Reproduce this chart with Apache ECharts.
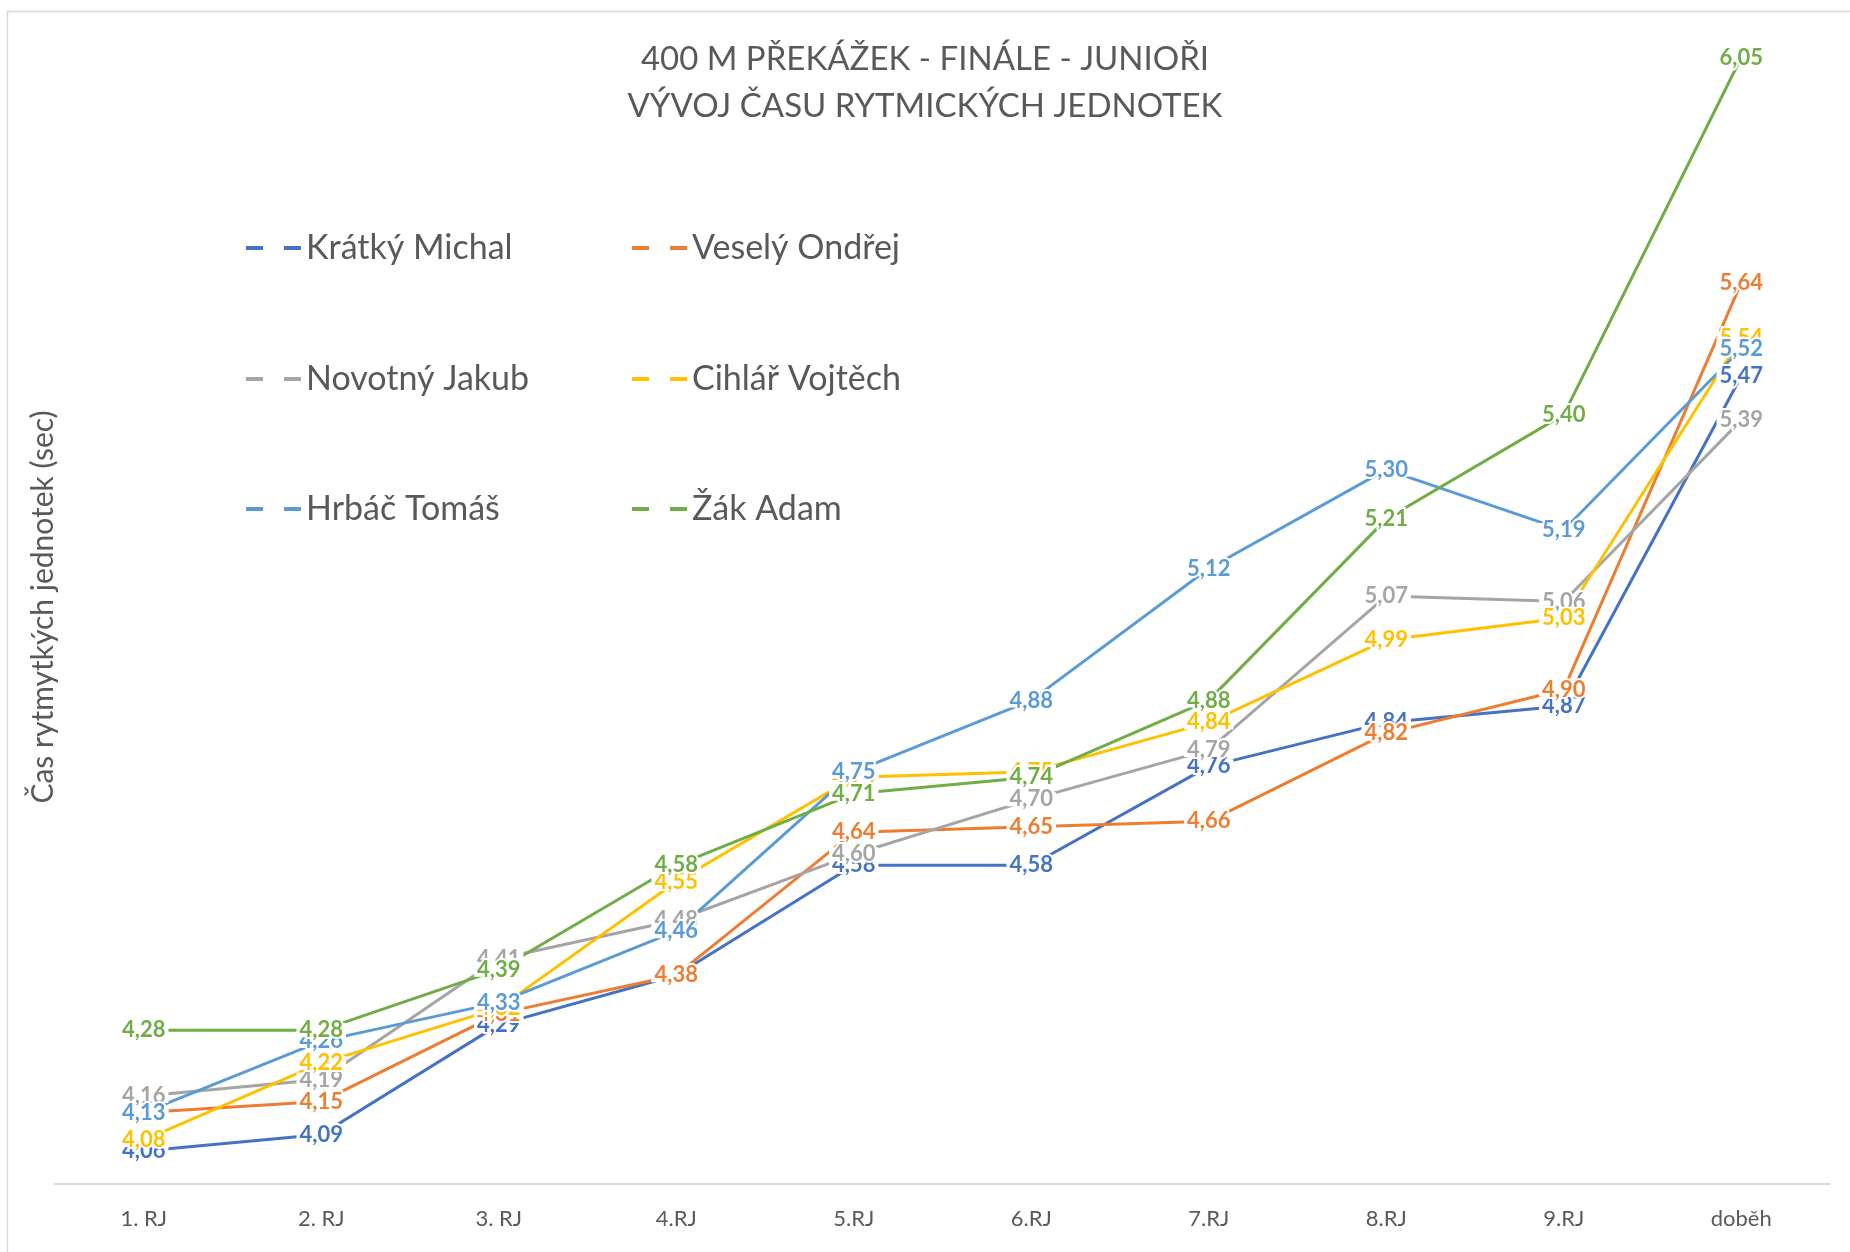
<!DOCTYPE html>
<html>
<head>
<meta charset="utf-8">
<style>
  html, body { margin: 0; padding: 0; background: #fff; }
  #chart { width: 1850px; height: 1252px; }
</style>
<script src="https://cdn.jsdelivr.net/npm/echarts@6/dist/echarts.min.js"></script>
</head>
<body>
<div id="chart"></div>
<script>
// kategorie (rytmické jednotky)
var categories = ["1. RJ", "2. RJ", "3. RJ", "4.RJ", "5.RJ", "6.RJ", "7.RJ", "8.RJ", "9.RJ", "doběh"];

// časy rytmických jednotek (sec)
var kratkyMichal  = [4.06, 4.09, 4.29, 4.38, 4.58, 4.58, 4.76, 4.84, 4.87, 5.47];
var veselyOndrej  = [4.13, 4.15, 4.31, 4.38, 4.64, 4.65, 4.66, 4.82, 4.90, 5.64];
var novotnyJakub  = [4.16, 4.19, 4.41, 4.48, 4.60, 4.70, 4.79, 5.07, 5.06, 5.39];
var cihlarVojtech = [4.08, 4.22, 4.32, 4.55, 4.74, 4.75, 4.84, 4.99, 5.03, 5.54];
var hrbacTomas    = [4.13, 4.26, 4.33, 4.46, 4.75, 4.88, 5.12, 5.30, 5.19, 5.52];
var zakAdam       = [4.28, 4.28, 4.39, 4.58, 4.71, 4.74, 4.88, 5.21, 5.40, 6.05];

var names = ["Krátký Michal", "Veselý Ondřej", "Novotný Jakub", "Cihlář Vojtěch", "Hrbáč Tomáš", "Žák Adam"];
var values = [kratkyMichal, veselyOndrej, novotnyJakub, cihlarVojtech, hrbacTomas, zakAdam];
var colors = ["#4472C4", "#ED7D31", "#A5A5A5", "#FFC000", "#5B9BD5", "#70AD47"];

var FONT = "Lato, 'Open Sans', sans-serif";
var TEXT = "#595959";

// legenda - ikona "– –"
var legendIcon = "path://M0,0h17v4h-17z M38,0h17v4h-17z";
var legendPos = [
    { left: 241, top: 223 }, { left: 627, top: 223 },
    { left: 241, top: 354 }, { left: 627, top: 354 },
    { left: 241, top: 484 }, { left: 627, top: 484 }
];

var legends = names.map(function(n, i) {
    return {
        data: [n],
        left: legendPos[i].left,
        top: legendPos[i].top,
        icon: legendIcon,
        itemWidth: 55,
        itemHeight: 4,
        selectedMode: false,
        textStyle: { color: TEXT, fontSize: 34, fontFamily: FONT, lineHeight: 40 }
    };
});

var series = names.map(function(n, i) {
    return {
        name: n,
        type: "line",
        data: values[i],
        color: colors[i],
        symbol: "circle",
        symbolSize: 0.1,
        lineStyle: { width: 3, color: colors[i] },
        label: {
            show: true,
            position: "inside",
            color: colors[i],
            fontSize: 22,
            fontWeight: "bold",
            fontFamily: FONT,
            lineHeight: 8,
            padding: [3, 3],
            backgroundColor: "#fff",
            textBorderColor: "#fff",
            textBorderWidth: 4,
            formatter: function(p) {
                return p.value.toFixed(2).replace(".", ",");
            }
        },
        emphasis: { disabled: true }
    };
});

var chart = echarts.init(document.getElementById("chart"));
chart.setOption({
    animation: false,
    backgroundColor: "#fff",
    title: {
        text: "400 M PŘEKÁŽEK - FINÁLE - JUNIOŘI\nVÝVOJ ČASU RYTMICKÝCH JEDNOTEK",
        left: "center",
        top: 31,
        textStyle: { color: TEXT, fontSize: 33, fontWeight: "normal", fontFamily: FONT, lineHeight: 47 }
    },
    legend: legends,
    grid: { left: 55, right: 20, top: 30, bottom: 68 },
    xAxis: {
        type: "category",
        data: categories,
        boundaryGap: true,
        axisLine: { lineStyle: { color: "#D9D9D9", width: 2 } },
        axisTick: { show: false },
        axisLabel: { color: TEXT, fontSize: 22, fontFamily: FONT, margin: 24 }
    },
    yAxis: {
        type: "value",
        min: 4,
        max: 6.1,
        name: "Čas rytmytkých jednotek (sec)",
        nameLocation: "middle",
        nameGap: -3,
        nameTextStyle: { color: TEXT, fontSize: 30, fontFamily: FONT },
        axisLine: { show: false },
        axisTick: { show: false },
        axisLabel: { show: false },
        splitLine: { show: false }
    },
    graphic: [{
        type: "rect",
        left: 5,
        top: 9,
        shape: { width: 1900, height: 1300 },
        style: { fill: "none", stroke: "#D9D9D9", lineWidth: 1.5 },
        silent: true
    }],
    series: series
});
</script>
</body>
</html>
